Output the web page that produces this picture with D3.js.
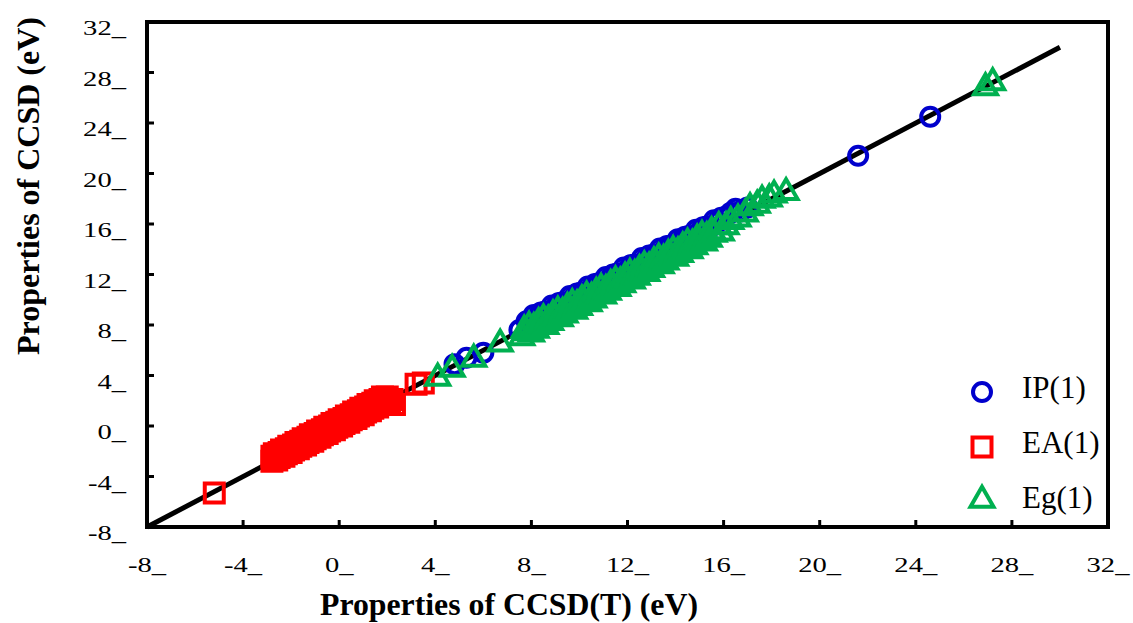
<!DOCTYPE html>
<html>
<head>
<meta charset="utf-8">
<script src="https://cdn.jsdelivr.net/npm/d3@7"></script>
<style>
  body { margin: 0; background: #fff; }
  svg { display: block; }
</style>
</head>
<body>
<div id="chart"></div>
<script>
// tick values shared by both axes
const tickValues = [-8, -4, 0, 4, 8, 12, 16, 20, 24, 28, 32]

// IP(1): [CCSD(T), CCSD]
const ipPoints = [
  [4.8, 4.9], [5.3, 5.4], [6.0, 5.8], [7.5, 7.6],
  [7.8, 8.3], [7.95, 8.25], [8.1, 8.8], [8.25, 8.65], [8.4, 9.0], [8.55, 9.05], [8.7, 9.0],
  [8.85, 9.55], [9.0, 9.4], [9.15, 9.75], [9.3, 9.8], [9.45, 9.75], [9.6, 10.3], [9.75, 10.15],
  [9.9, 10.5], [10.05, 10.55], [10.2, 10.5], [10.35, 11.05], [10.5, 10.9], [10.65, 11.25],
  [10.8, 11.3], [10.95, 11.25], [11.1, 11.8], [11.25, 11.65], [11.4, 12.0], [11.55, 12.05],
  [11.7, 12.0], [11.85, 12.55], [12.0, 12.4], [12.15, 12.75], [12.3, 12.8], [12.45, 12.75],
  [12.6, 13.3], [12.75, 13.15], [12.9, 13.5], [13.05, 13.55], [13.2, 13.5], [13.35, 14.05],
  [13.5, 13.9], [13.65, 14.25], [13.8, 14.3], [13.95, 14.25], [14.1, 14.8], [14.25, 14.65],
  [14.4, 15.0], [14.55, 15.05], [14.7, 15.0], [14.85, 15.55], [15.0, 15.4], [15.15, 15.75],
  [15.3, 15.8], [15.45, 15.75], [15.6, 16.3], [15.75, 16.15], [15.9, 16.5], [16.1, 16.6],
  [16.3, 16.9], [16.5, 17.2], [16.7, 17.0], [17.0, 17.3],
  [21.6, 21.4], [24.6, 24.5]
]

// EA(1)
const eaPoints = [
  [-5.2, -5.3],
  [-2.8, -2.8], [-2.8, -2.4], [-2.7, -2.5], [-2.7, -2.2], [-2.6, -2.7], [-2.6, -2.3], [-2.5, -2.5],
  [-2.5, -2.1], [-2.4, -2.2], [-2.4, -1.9], [-2.3, -2.4], [-2.3, -2.0], [-2.2, -2.2], [-2.2, -1.8],
  [-2.1, -1.9], [-2.1, -1.6], [-2.0, -2.1], [-2.0, -1.7], [-1.9, -1.9], [-1.9, -1.5], [-1.8, -1.6],
  [-1.8, -1.3], [-1.7, -1.8], [-1.7, -1.4], [-1.6, -1.6], [-1.6, -1.2], [-1.5, -1.3], [-1.5, -1.0],
  [-1.4, -1.5], [-1.4, -1.1], [-1.3, -1.3], [-1.3, -0.9], [-1.2, -1.0], [-1.2, -0.7], [-1.1, -1.2],
  [-1.1, -0.8], [-1.0, -1.0], [-1.0, -0.6], [-0.9, -0.7], [-0.9, -0.4], [-0.8, -0.9], [-0.8, -0.5],
  [-0.7, -0.7], [-0.7, -0.3], [-0.6, -0.4], [-0.6, -0.1], [-0.5, -0.6], [-0.5, -0.2], [-0.4, -0.4],
  [-0.4, 0.0], [-0.3, -0.1], [-0.3, 0.2], [-0.2, -0.3], [-0.2, 0.1], [-0.1, -0.1], [-0.1, 0.3],
  [0.0, 0.2], [0.0, 0.5], [0.1, 0.0], [0.1, 0.4], [0.2, 0.2], [0.2, 0.6], [0.3, 0.5], [0.3, 0.8],
  [0.4, 0.3], [0.4, 0.7], [0.5, 0.5], [0.5, 0.9], [0.6, 0.8], [0.6, 1.1], [0.7, 0.6], [0.7, 1.0],
  [0.8, 0.8], [0.8, 1.2], [0.9, 1.1], [0.9, 1.4], [1.0, 0.9], [1.0, 1.3], [1.1, 1.1], [1.1, 1.5],
  [1.2, 1.4], [1.2, 1.7], [1.3, 1.2], [1.3, 1.6], [1.4, 1.4], [1.4, 1.8], [1.5, 1.7], [1.5, 2.0],
  [1.6, 1.5], [1.6, 1.9], [1.7, 1.7], [1.7, 2.1], [1.8, 2.0], [1.8, 2.3], [1.9, 1.8], [1.9, 2.2],
  [2.0, 2.0], [2.0, 2.3], [2.1, 1.8], [2.2, 2.1], [2.3, 1.7],
  [3.2, 3.3], [3.5, 3.4]
]

// Eg(1)
const egPoints = [
  [4.1, 3.8], [4.7, 4.5], [5.6, 5.3], [6.7, 6.5],
  [7.6, 7.0], [7.7, 7.6], [7.8, 7.4], [7.9, 7.9], [8.0, 7.3], [8.1, 7.8], [8.2, 7.6], [8.3, 8.2],
  [8.4, 8.0], [8.5, 8.5], [8.6, 7.9], [8.7, 8.4], [8.8, 8.2], [8.9, 8.8], [9.0, 8.6], [9.1, 9.1],
  [9.2, 8.5], [9.3, 9.0], [9.4, 8.8], [9.5, 9.4], [9.6, 9.2], [9.7, 9.7], [9.8, 9.1], [9.9, 9.6],
  [10.0, 9.4], [10.1, 10.0], [10.2, 9.8], [10.3, 10.3], [10.4, 9.7], [10.5, 10.2], [10.6, 10.0],
  [10.7, 10.6], [10.8, 10.4], [10.9, 10.9], [11.0, 10.3], [11.1, 10.8], [11.2, 10.6], [11.3, 11.2],
  [11.4, 11.0], [11.5, 11.5], [11.6, 10.9], [11.7, 11.4], [11.8, 11.2], [11.9, 11.8], [12.0, 11.6],
  [12.1, 12.1], [12.2, 11.5], [12.3, 12.0], [12.4, 11.8], [12.5, 12.4], [12.6, 12.2], [12.7, 12.7],
  [12.8, 12.1], [12.9, 12.6], [13.0, 12.4], [13.1, 13.0], [13.2, 12.8], [13.3, 13.3], [13.4, 12.7],
  [13.5, 13.2], [13.6, 13.0], [13.7, 13.6], [13.8, 13.4], [13.9, 13.9], [14.0, 13.3], [14.1, 13.8],
  [14.2, 13.6], [14.3, 14.2], [14.4, 14.0], [14.5, 14.5], [14.6, 13.9], [14.7, 14.4], [14.8, 14.2],
  [14.9, 14.8], [15.0, 14.6], [15.1, 15.1], [15.2, 14.5], [15.3, 15.0], [15.4, 14.8], [15.5, 15.4],
  [15.6, 15.2], [15.8, 15.8], [15.9, 15.3], [16.1, 15.8], [16.3, 16.2],
  [16.6, 16.4], [16.9, 16.8], [17.1, 17.3], [17.4, 17.5], [17.6, 17.9], [17.9, 18.0], [18.1, 18.3],
  [18.6, 18.5], [26.9, 26.8], [27.2, 27.2]
]

const seriesNames = ["IP(1)", "EA(1)", "Eg(1)"]
const seriesColors = ["#0000CC", "#FF0000", "#00B050"]
const lineEnds = [-8, 30]   // y = x reference line

const width = 1133
const height = 623
const mLeft = 147, mRight = 1108, mTop = 22, mBottom = 527

const x = d3.scaleLinear().domain([-8, 32]).range([mLeft, mRight])
const y = d3.scaleLinear().domain([-8, 32]).range([mBottom, mTop])

const svg = d3.select("#chart").append("svg")
    .attr("width", width)
    .attr("height", height)
    .style("font-family", "'Liberation Serif', 'Times New Roman', serif")

// reference line y = x (drawn under the markers)
svg.append("line")
    .attr("x1", x(lineEnds[0])).attr("y1", y(lineEnds[0]))
    .attr("x2", x(lineEnds[1])).attr("y2", y(lineEnds[1]))
    .attr("stroke", "#000")
    .attr("stroke-width", 5)

const symbols = [
  d3.symbol().type(d3.symbolCircle).size(Math.PI * 9 * 9),
  d3.symbol().type(d3.symbolSquare).size(19 * 19),
  d3.symbol().type(d3.symbolTriangle).size(0.433 * 23 * 23)
]

const allSeries = [ipPoints, eaPoints, egPoints]
allSeries.forEach((pts, i) => {
  svg.append("g")
      .selectAll("path")
      .data(pts)
      .join("path")
      .attr("d", symbols[i])
      .attr("transform", d => `translate(${x(d[0])},${y(d[1])})`)
      .attr("fill", "none")
      .attr("stroke", seriesColors[i])
      .attr("stroke-width", 4)
})

// frame
svg.append("rect")
    .attr("x", mLeft).attr("y", mTop)
    .attr("width", mRight - mLeft).attr("height", mBottom - mTop)
    .attr("fill", "none")
    .attr("stroke", "#000")
    .attr("stroke-width", 4)

const inner = tickValues.slice(1, -1)
// ticks pointing inwards
svg.append("g").selectAll("line").data(inner).join("line")
    .attr("x1", d => x(d)).attr("x2", d => x(d))
    .attr("y1", mBottom).attr("y2", mBottom - 7)
    .attr("stroke", "#000").attr("stroke-width", 3)
svg.append("g").selectAll("line").data(inner).join("line")
    .attr("y1", d => y(d)).attr("y2", d => y(d))
    .attr("x1", mLeft).attr("x2", mLeft + 7)
    .attr("stroke", "#000").attr("stroke-width", 3)

// tick labels, with their trailing underscore
svg.append("g").selectAll("text").data(tickValues).join("text")
    .attr("transform", d => `translate(${x(d)},572) scale(1.3,1)`)
    .attr("text-anchor", "middle")
    .attr("font-size", 22)
    .text(d => d + "_")
svg.append("g").selectAll("text").data(tickValues).join("text")
    .attr("transform", d => `translate(126,${y(d) + 13}) scale(1.3,1)`)
    .attr("text-anchor", "end")
    .attr("font-size", 22)
    .text(d => d + "_")

// axis titles
svg.append("text")
    .attr("x", 509).attr("y", 615)
    .attr("text-anchor", "middle")
    .attr("font-size", 32)
    .attr("font-weight", "bold")
    .attr("textLength", 378)
    .attr("lengthAdjust", "spacingAndGlyphs")
    .text("Properties of CCSD(T) (eV)")
svg.append("text")
    .attr("transform", "translate(39,186) rotate(-90)")
    .attr("text-anchor", "middle")
    .attr("font-size", 32)
    .attr("font-weight", "bold")
    .attr("textLength", 338)
    .attr("lengthAdjust", "spacingAndGlyphs")
    .text("Properties of CCSD (eV)")

// legend
const legendY = [392, 447, 500]
const legend = svg.append("g")
legend.selectAll("path").data(seriesNames).join("path")
    .attr("d", (d, i) => symbols[i]())
    .attr("transform", (d, i) => `translate(982,${legendY[i]})`)
    .attr("fill", "none")
    .attr("stroke", (d, i) => seriesColors[i])
    .attr("stroke-width", 4)
legend.selectAll("text").data(seriesNames).join("text")
    .attr("x", 1022)
    .attr("y", (d, i) => legendY[i] + [6, 6, 8][i])
    .attr("font-size", 31)
    .text(d => d)
</script>
</body>
</html>
